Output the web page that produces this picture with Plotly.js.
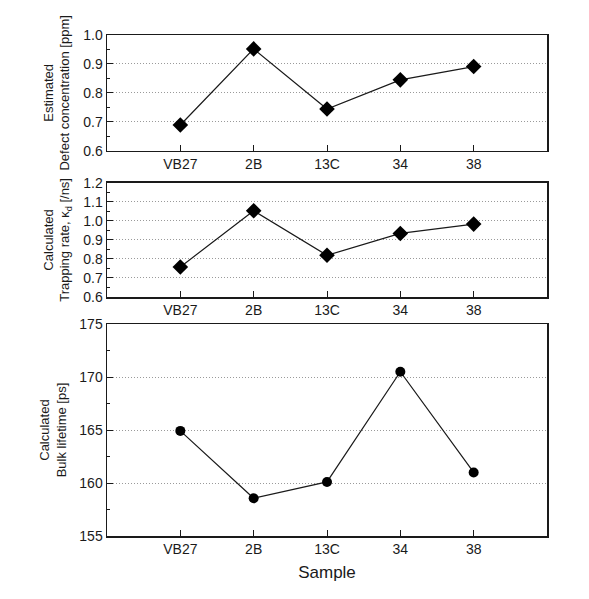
<!DOCTYPE html>
<html><head><meta charset="utf-8">
<script src="https://cdn.plot.ly/plotly-3.0.1.min.js"></script>
<style>body{margin:0;background:#fff}#c{width:589px;height:599px}</style>
</head><body><div id="c"></div>
<script>
const samples = ["VB27", "2B", "13C", "34", "38"];
const defectConc = [0.689, 0.952, 0.744, 0.845, 0.891];
const trappingRate = [0.758, 1.053, 0.819, 0.934, 0.983];
const bulkLifetime = [164.92, 158.56, 160.1, 170.5, 161.0];

const FONT = "Liberation Sans, Arial, sans-serif";
const ink = "#1a1a1a";

function xax(anchor) {
  return {
    type: "category", categoryorder: "array", categoryarray: samples,
    range: [-1, 5], anchor: anchor,
    showline: true, mirror: true, linecolor: ink, linewidth: 1.5,
    ticks: "inside", ticklen: 6, tickcolor: ink, tickwidth: 1,
    showgrid: false, zeroline: false,
    tickfont: {family: FONT, size: 14, color: ink}
  };
}
function yax(anchor, domain, range, dtick, mdtick, fmt, title) {
  return {
    domain: domain, range: range, anchor: anchor, dtick: dtick, tickformat: fmt,
    showline: true, mirror: true, linecolor: ink, linewidth: 1.5,
    ticks: "inside", ticklen: 6, tickcolor: ink, tickwidth: 1,
    minor: {dtick: mdtick, ticks: "inside", ticklen: 3, tickcolor: ink, showgrid: false},
    showgrid: true, gridcolor: "#9a9a9a", griddash: "1px,2px", gridwidth: 1,
    zeroline: false,
    tickfont: {family: FONT, size: 14, color: ink},
    title: {text: title, font: {family: FONT, size: 13, color: ink}, standoff: 10}
  };
}

const line = {color: ink, width: 1.2};
const traces = [
  {x: samples, y: defectConc, xaxis: "x", yaxis: "y", mode: "lines+markers",
   line: line, marker: {symbol: "diamond", size: 12, color: "#000"}},
  {x: samples, y: trappingRate, xaxis: "x2", yaxis: "y2", mode: "lines+markers",
   line: line, marker: {symbol: "diamond", size: 12, color: "#000"}},
  {x: samples, y: bulkLifetime, xaxis: "x3", yaxis: "y3", mode: "lines+markers",
   line: line, marker: {symbol: "circle", size: 10, color: "#000"}}
];

const layout = {
  width: 589, height: 599, showlegend: false,
  paper_bgcolor: "#fff", plot_bgcolor: "#fff",
  margin: {l: 107, r: 42, t: 35, b: 63},
  font: {family: FONT, color: ink},
  xaxis: xax("y"), xaxis2: xax("y2"),
  xaxis3: Object.assign(xax("y3"), {title: {text: "Sample", font: {family: FONT, size: 17, color: ink}, standoff: 10}}),
  yaxis: yax("x", [0.769, 1.0], [0.6, 1.0], 0.1, 0.05, ".1f", "Estimated<br>Defect concentration [ppm]"),
  yaxis2: yax("x2", [0.477, 0.705], [0.6, 1.2], 0.1, 0.05, ".1f", "Calculated<br>Trapping rate, κ<sub>d</sub> [/ns]"),
  yaxis3: yax("x3", [0, 0.423], [155, 175], 5, 2.5, "d", "Calculated<br>Bulk lifetime [ps]")
};

Plotly.newPlot("c", traces, layout, {displayModeBar: false, staticPlot: true});
</script>
</body></html>
